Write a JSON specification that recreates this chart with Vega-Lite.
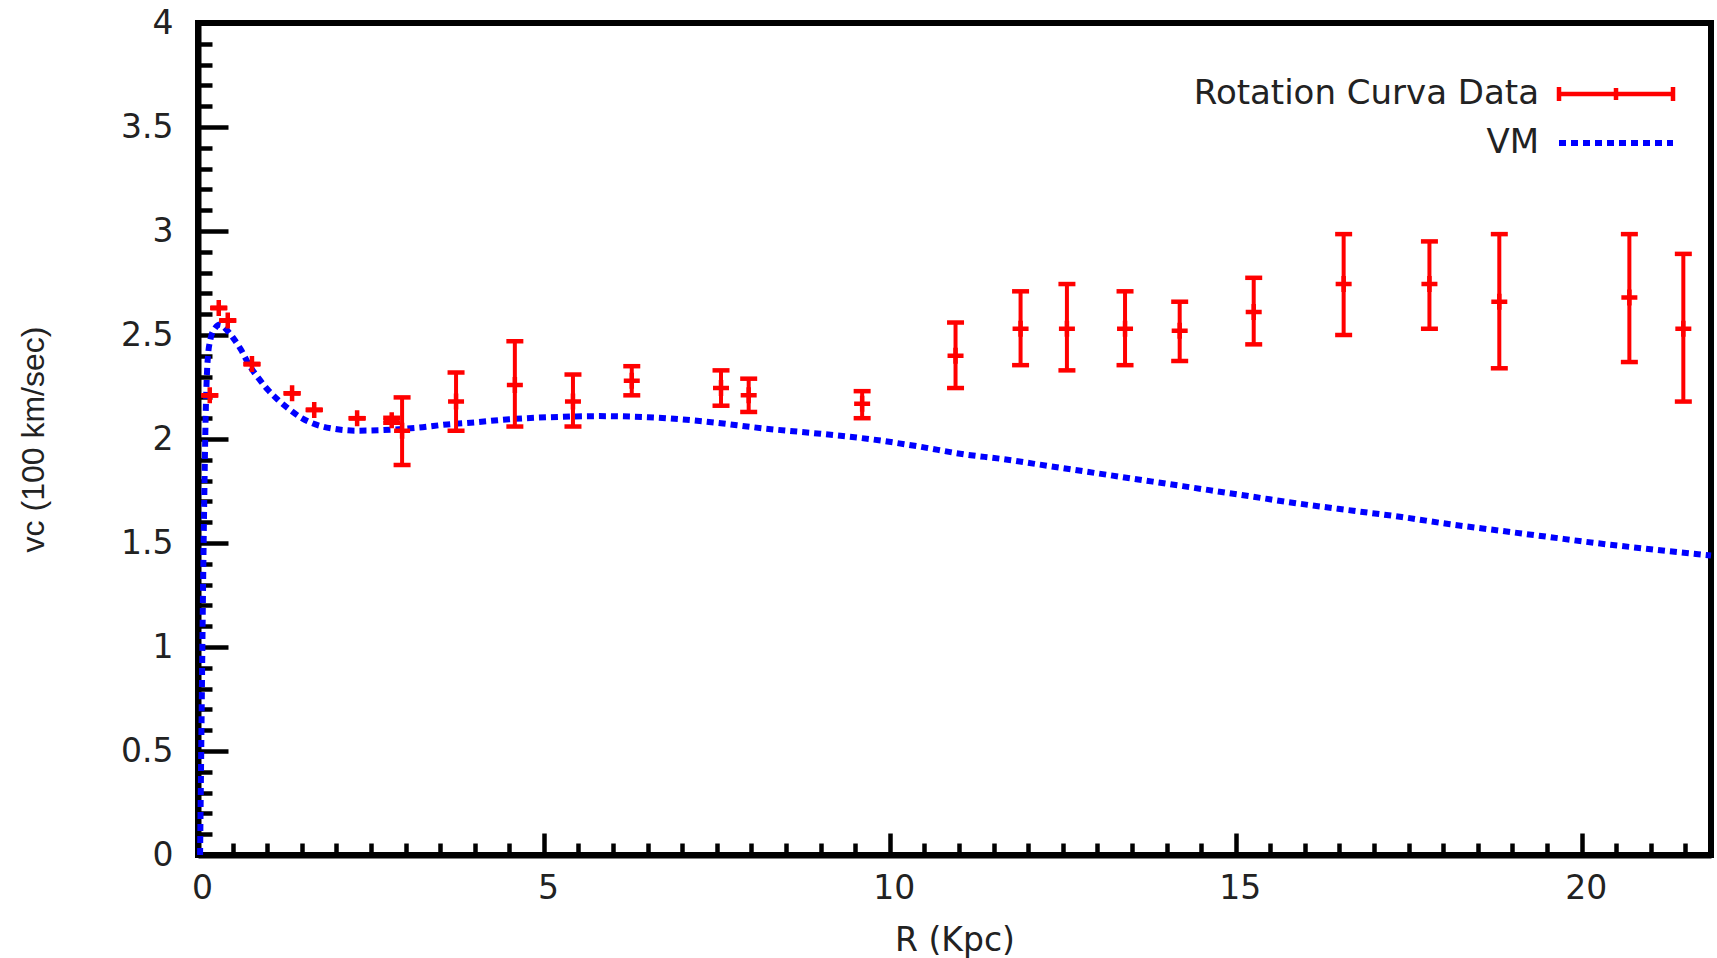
{
  "$schema": "https://vega.github.io/schema/vega-lite/v6.json",
  "width": 1513,
  "height": 832,
  "autosize": {"type": "none"},
  "padding": {"left": 198, "top": 23, "right": 6, "bottom": 103},
  "background": "white",
  "config": {
    "view": {"stroke": "black", "strokeWidth": 6},
    "axis": {"grid": false}
  },
  "resolve": {"axis": {"x": "independent", "y": "independent"}},
  "datasets": {
    "vm": [
      {"R": 0.03, "v": 0.0, "series": "VM"},
      {"R": 0.05, "v": 0.6, "series": "VM"},
      {"R": 0.07, "v": 1.2, "series": "VM"},
      {"R": 0.09, "v": 1.7, "series": "VM"},
      {"R": 0.11, "v": 2.1, "series": "VM"},
      {"R": 0.14, "v": 2.38, "series": "VM"},
      {"R": 0.18, "v": 2.48, "series": "VM"},
      {"R": 0.24, "v": 2.53, "series": "VM"},
      {"R": 0.32, "v": 2.55, "series": "VM"},
      {"R": 0.4, "v": 2.53, "series": "VM"},
      {"R": 0.5, "v": 2.49, "series": "VM"},
      {"R": 0.62, "v": 2.43, "series": "VM"},
      {"R": 0.75, "v": 2.35, "series": "VM"},
      {"R": 0.88, "v": 2.29, "series": "VM"},
      {"R": 1.0, "v": 2.24, "series": "VM"},
      {"R": 1.15, "v": 2.19, "series": "VM"},
      {"R": 1.33, "v": 2.14, "series": "VM"},
      {"R": 1.5, "v": 2.1, "series": "VM"},
      {"R": 1.62, "v": 2.08, "series": "VM"},
      {"R": 1.8, "v": 2.06, "series": "VM"},
      {"R": 1.95, "v": 2.05, "series": "VM"},
      {"R": 2.3, "v": 2.04, "series": "VM"},
      {"R": 2.8, "v": 2.045, "series": "VM"},
      {"R": 3.2, "v": 2.055, "series": "VM"},
      {"R": 3.6, "v": 2.07, "series": "VM"},
      {"R": 4.0, "v": 2.08, "series": "VM"},
      {"R": 4.5, "v": 2.095, "series": "VM"},
      {"R": 5.1, "v": 2.105, "series": "VM"},
      {"R": 5.8, "v": 2.11, "series": "VM"},
      {"R": 6.5, "v": 2.105, "series": "VM"},
      {"R": 7.3, "v": 2.085, "series": "VM"},
      {"R": 8.2, "v": 2.05, "series": "VM"},
      {"R": 9.0, "v": 2.025, "series": "VM"},
      {"R": 9.7, "v": 2.0, "series": "VM"},
      {"R": 10.4, "v": 1.965, "series": "VM"},
      {"R": 11.1, "v": 1.925, "series": "VM"},
      {"R": 11.6, "v": 1.905, "series": "VM"},
      {"R": 12.3, "v": 1.87, "series": "VM"},
      {"R": 13.0, "v": 1.835, "series": "VM"},
      {"R": 13.8, "v": 1.795, "series": "VM"},
      {"R": 14.5, "v": 1.76, "series": "VM"},
      {"R": 15.2, "v": 1.725, "series": "VM"},
      {"R": 15.9, "v": 1.69, "series": "VM"},
      {"R": 16.7, "v": 1.655, "series": "VM"},
      {"R": 17.4, "v": 1.625, "series": "VM"},
      {"R": 18.1, "v": 1.59, "series": "VM"},
      {"R": 18.8, "v": 1.56, "series": "VM"},
      {"R": 19.5, "v": 1.53, "series": "VM"},
      {"R": 20.2, "v": 1.5, "series": "VM"},
      {"R": 21.0, "v": 1.47, "series": "VM"},
      {"R": 21.87, "v": 1.44, "series": "VM"}
    ],
    "obs": [
      {"R": 0.17, "v": 2.21, "lo": 2.21, "hi": 2.21},
      {"R": 0.30, "v": 2.63, "lo": 2.63, "hi": 2.63},
      {"R": 0.43, "v": 2.57, "lo": 2.57, "hi": 2.57},
      {"R": 0.78, "v": 2.36, "lo": 2.36, "hi": 2.36},
      {"R": 1.36, "v": 2.22, "lo": 2.22, "hi": 2.22},
      {"R": 1.68, "v": 2.14, "lo": 2.14, "hi": 2.14},
      {"R": 2.30, "v": 2.10, "lo": 2.10, "hi": 2.10},
      {"R": 2.80, "v": 2.09, "lo": 2.078, "hi": 2.102},
      {"R": 2.95, "v": 2.04, "lo": 1.875, "hi": 2.2},
      {"R": 3.73, "v": 2.18, "lo": 2.04, "hi": 2.32},
      {"R": 4.58, "v": 2.26, "lo": 2.06, "hi": 2.47},
      {"R": 5.42, "v": 2.18, "lo": 2.06, "hi": 2.31},
      {"R": 6.27, "v": 2.28, "lo": 2.21, "hi": 2.35},
      {"R": 7.56, "v": 2.245, "lo": 2.16, "hi": 2.33},
      {"R": 7.96, "v": 2.21, "lo": 2.13, "hi": 2.29},
      {"R": 9.60, "v": 2.17, "lo": 2.1, "hi": 2.23},
      {"R": 10.95, "v": 2.40, "lo": 2.245, "hi": 2.56},
      {"R": 11.89, "v": 2.53, "lo": 2.355, "hi": 2.71},
      {"R": 12.56, "v": 2.53, "lo": 2.33, "hi": 2.745},
      {"R": 13.40, "v": 2.53, "lo": 2.355, "hi": 2.71},
      {"R": 14.19, "v": 2.52, "lo": 2.375, "hi": 2.66},
      {"R": 15.26, "v": 2.61, "lo": 2.455, "hi": 2.775},
      {"R": 16.56, "v": 2.745, "lo": 2.5, "hi": 2.985},
      {"R": 17.80, "v": 2.745, "lo": 2.53, "hi": 2.95},
      {"R": 18.81, "v": 2.66, "lo": 2.34, "hi": 2.985},
      {"R": 20.69, "v": 2.68, "lo": 2.37, "hi": 2.985},
      {"R": 21.47, "v": 2.53, "lo": 2.18, "hi": 2.89}
    ]
  },
  "layer": [
    {
      "data": {"name": "vm"},
      "mark": {"type": "line", "strokeWidth": 6, "strokeDash": [7, 5], "strokeCap": "butt", "interpolate": "monotone"},
      "encoding": {
        "x": {
          "field": "R", "type": "quantitative",
          "scale": {"domain": [0, 21.87], "nice": false, "zero": false},
          "axis": {
            "orient": "bottom",
            "values": [0, 5, 10, 15, 20],
            "title": "R (Kpc)",
            "domainColor": "black", "domainWidth": 6,
            "tickColor": "black", "tickWidth": 4.5, "tickSize": -22,
            "format": "d",
            "labelPadding": 39,
            "labelOffset": 4,
            "labelFont": "DejaVu Sans", "labelFontSize": 33, "labelColor": "#222222",
            "labelFlush": false, "labelOverlap": false, "labelBound": false,
            "titleFont": "DejaVu Sans", "titleFontSize": 33, "titleFontWeight": "normal", "titleColor": "#222222",
            "titlePadding": 19
          }
        },
        "y": {
          "field": "v", "type": "quantitative",
          "scale": {"domain": [0, 4], "nice": false},
          "axis": {
            "orient": "left",
            "values": [0, 0.5, 1, 1.5, 2, 2.5, 3, 3.5, 4],
            "title": "vc (100 km/sec)",
            "domainColor": "black", "domainWidth": 6,
            "tickColor": "black", "tickWidth": 4.5, "tickSize": -30,
            "labelExpr": "format(datum.value, '.1~f')",
            "labelPadding": 55,
            "labelFont": "DejaVu Sans", "labelFontSize": 33, "labelColor": "#222222",
            "labelFlush": false, "labelOverlap": false, "labelBound": false,
            "titleFont": "Liberation Sans", "titleFontSize": 32, "titleFontWeight": "normal", "titleColor": "#222222",
            "titlePadding": 70
          }
        },
        "color": {
          "field": "series", "type": "nominal",
          "scale": {"domain": ["Rotation Curva Data", "VM"], "range": ["#ff0000", "#0000ff"]},
          "legend": {
            "orient": "none", "legendX": 1401, "legendY": 54,
            "title": null,
            "labelFont": "DejaVu Sans", "labelFontSize": 34, "labelColor": "#222222",
            "labelAlign": "right", "labelOffset": -94, "labelLimit": 800,
            "symbolSize": 400, "rowPadding": 15,
            "symbolType": {"expr": "datum.value === 'VM' ? 'M-5.7,0H5.7' : 'M-5.7,0H5.7M-5.7,-0.7V0.7M5.7,-0.7V0.7M0,-0.6V0.6'"},
            "symbolDash": {"expr": "datum.value === 'VM' ? [7, 5] : [1, 0]"},
            "symbolStrokeWidth": {"expr": "datum.value === 'VM' ? 6 : 4.5"},
            "symbolFillColor": "transparent",
            "symbolOpacity": 1
          }
        }
      }
    },
    {
      "data": {"name": "obs"},
      "mark": {"type": "rule", "color": "#ff0000", "strokeWidth": 4, "opacity": 1},
      "encoding": {
        "x": {
          "field": "R", "type": "quantitative",
          "scale": {"domain": [0, 21.87], "nice": false, "zero": false},
          "axis": {
            "orient": "bottom",
            "values": [0.5,1,1.5,2,2.5,3,3.5,4,4.5,5.5,6,6.5,7,7.5,8,8.5,9,9.5,10.5,11,11.5,12,12.5,13,13.5,14,14.5,15.5,16,16.5,17,17.5,18,18.5,19,19.5,20.5,21,21.5],
            "title": null, "labels": false, "domain": false,
            "tickColor": "black", "tickWidth": 4.5, "tickSize": -12
          }
        },
        "y": {
          "field": "lo", "type": "quantitative",
          "scale": {"domain": [0, 4], "nice": false},
          "axis": {
            "orient": "left",
            "values": [0.1,0.2,0.3,0.4,0.6,0.7,0.8,0.9,1.1,1.2,1.3,1.4,1.6,1.7,1.8,1.9,2.1,2.2,2.3,2.4,2.6,2.7,2.8,2.9,3.1,3.2,3.3,3.4,3.6,3.7,3.8,3.9],
            "title": null, "labels": false, "domain": false,
            "tickColor": "black", "tickWidth": 4.5, "tickSize": -14
          }
        },
        "y2": {"field": "hi"}
      }
    },
    {
      "data": {"name": "obs"},
      "mark": {"type": "tick", "orient": "horizontal", "color": "#ff0000", "size": 17, "thickness": 4.5, "opacity": 1},
      "encoding": {
        "x": {"field": "R", "type": "quantitative", "scale": {"domain": [0, 21.87], "nice": false, "zero": false}, "axis": null},
        "y": {"field": "lo", "type": "quantitative", "scale": {"domain": [0, 4], "nice": false}, "axis": null}
      }
    },
    {
      "data": {"name": "obs"},
      "mark": {"type": "tick", "orient": "horizontal", "color": "#ff0000", "size": 17, "thickness": 4.5, "opacity": 1},
      "encoding": {
        "x": {"field": "R", "type": "quantitative", "scale": {"domain": [0, 21.87], "nice": false, "zero": false}, "axis": null},
        "y": {"field": "hi", "type": "quantitative", "scale": {"domain": [0, 4], "nice": false}, "axis": null}
      }
    },
    {
      "data": {"name": "obs"},
      "mark": {"type": "point", "shape": "M-1,0H1M0,-1V1", "filled": false, "size": 256, "strokeWidth": 4.5, "color": "#ff0000", "opacity": 1},
      "encoding": {
        "x": {"field": "R", "type": "quantitative", "scale": {"domain": [0, 21.87], "nice": false, "zero": false}, "axis": null},
        "y": {"field": "v", "type": "quantitative", "scale": {"domain": [0, 4], "nice": false}, "axis": null}
      }
    }
  ]
}
